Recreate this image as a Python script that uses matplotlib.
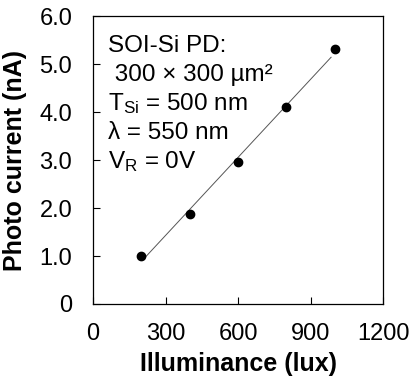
import numpy as np
import matplotlib
matplotlib.use('Agg')
import matplotlib.pyplot as plt

plt.rcParams['font.family'] = ['Liberation Sans', 'DejaVu Sans']
plt.rcParams['mathtext.fontset'] = 'custom'
plt.rcParams['mathtext.rm'] = 'Liberation Sans'
plt.rcParams['mathtext.it'] = 'Liberation Sans:italic'

illum = [200, 400, 600, 800, 1000]
current = [1.01, 1.88, 2.96, 4.10, 5.32]
xticks = [0, 300, 600, 900, 1200]
yticks = [0, 1, 2, 3, 4, 5, 6]
ytick_labels = ['0', '1.0', '2.0', '3.0', '4.0', '5.0', '6.0']
notes = ['SOI-Si PD:', ' 300 × 300 µm²', r'T$_{\mathrm{Si}}$ = 500 nm',
         'λ = 550 nm', r'V$_{\mathrm{R}}$ = 0V']

fig = plt.figure(figsize=(4.11, 3.81), dpi=100)
ax = fig.add_axes([0.2263, 0.2021, 0.7057, 0.7559])

# linear fit line
k, b = np.polyfit(illum, current, 1)
xf = np.array([205, 985])
ax.plot(xf, k * xf + b, color='#555555', lw=0.7)
ax.plot(illum, current, 'o', color='black', ms=6)

ax.set_xlim(0, 1200)
ax.set_ylim(0, 6)
ax.set_xticks(xticks)
ax.set_yticks(yticks)
ax.set_yticklabels(ytick_labels)
ax.tick_params(direction='in', length=5, width=0.8, labelsize=17)
ax.tick_params(axis='y', pad=15)
ax.tick_params(axis='x', pad=14)
for s in ax.spines.values():
    s.set_linewidth(0.9)

ax.set_xlabel('Illuminance (lux)', fontsize=18, fontweight='bold')
ax.set_ylabel('Photo current (nA)', fontsize=18, fontweight='bold')
ax.xaxis.set_label_coords(0.5, -0.165)
ax.yaxis.set_label_coords(-0.228, 0.5)

ys = [0.875, 0.774, 0.674, 0.573, 0.472]
for t, y in zip(notes, ys):
    ax.text(0.052, y, t, transform=ax.transAxes, fontsize=17.5, va='baseline')

fig.savefig('out.png', dpi=100)
